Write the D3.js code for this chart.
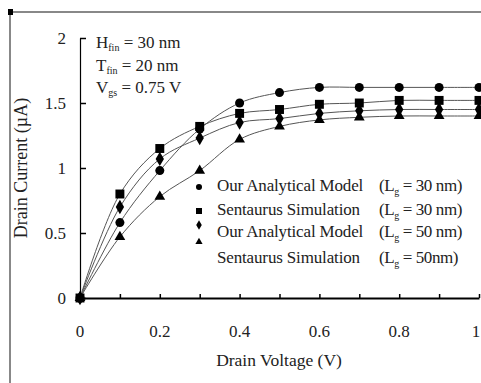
<!DOCTYPE html>
<html>
<head>
<meta charset="utf-8">
<script src="https://cdn.jsdelivr.net/npm/d3@7"></script>
<style>
  html, body { margin: 0; padding: 0; background: #fff; }
  svg { display: block; }
</style>
</head>
<body>
<div id="chart"></div>
<script>
// drain voltage (V) sample points and drain current (uA) per series
const VDS = [0, 0.1, 0.2, 0.3, 0.4, 0.5, 0.6, 0.7, 0.8, 0.9, 1.0];
const MODEL_30 = [0, 0.58, 0.98, 1.30, 1.50, 1.58, 1.62, 1.62, 1.62, 1.62, 1.62];
const SIM_30 = [0, 0.80, 1.15, 1.32, 1.42, 1.45, 1.49, 1.50, 1.52, 1.52, 1.52];
const MODEL_50 = [0, 0.70, 1.07, 1.23, 1.35, 1.38, 1.42, 1.44, 1.45, 1.45, 1.45];
const SIM_50 = [0, 0.47, 0.78, 0.98, 1.22, 1.32, 1.37, 1.39, 1.40, 1.40, 1.40];

const X_TICKS = [0, 0.2, 0.4, 0.6, 0.8, 1];
const Y_TICKS = [0, 0.5, 1, 1.5, 2];

const SERIES = [
  { name: "Our Analytical Model", lg: "30 nm", values: MODEL_30, symbol: d3.symbolCircle, size: 64 },
  { name: "Sentaurus Simulation", lg: "30 nm", values: SIM_30, symbol: d3.symbolSquare, size: 80 },
  { name: "Our Analytical Model", lg: "50 nm", values: MODEL_50, symbol: d3.symbolDiamond, size: 60 },
  { name: "Sentaurus Simulation", lg: "50nm", values: SIM_50, symbol: d3.symbolTriangle, size: 50 }
];

const W = 481, H = 383;
const SERIF = '"Liberation Serif"';
const svg = d3.select("#chart").append("svg").attr("width", W).attr("height", H);

// outer frame (top and left only are visible)
svg.append("path").attr("d", `M10,${H} V12 H${W}`)
  .attr("fill", "none").attr("stroke", "#888").attr("stroke-width", 2);
svg.append("rect").attr("x", 8).attr("y", 9).attr("width", 5).attr("height", 6).attr("fill", "#000");

const x = d3.scaleLinear().domain([0, 1]).range([80, 479]);
const y = d3.scaleLinear().domain([0, 2]).range([298, 38]);

// y axis
const yAxis = svg.append("g").attr("transform", `translate(${x(0)},0)`)
  .call(d3.axisLeft(y).tickValues(Y_TICKS).tickSizeInner(-6).tickSizeOuter(0).tickPadding(14).tickFormat(d3.format("")));
yAxis.select(".domain").attr("stroke", "#000").attr("stroke-width", 1.2);
yAxis.selectAll(".tick line").attr("stroke", "#000").attr("stroke-width", 1.5);
yAxis.selectAll(".tick text").style("font-family", SERIF).attr("font-size", 17).attr("fill", "#222");

// x axis with minor ticks every 0.1
const xAxis = svg.append("g").attr("transform", `translate(0,${y(0)})`)
  .call(d3.axisBottom(x).tickValues(VDS).tickSizeInner(-4).tickSizeOuter(0).tickPadding(0).tickFormat(""));
xAxis.select(".domain").attr("stroke", "#000").attr("stroke-width", 2.2);
xAxis.selectAll(".tick line").attr("stroke", "#000").attr("stroke-width", 1.5);
svg.append("g").selectAll("text").data(X_TICKS).join("text")
  .attr("x", d => Math.min(x(d), 476)).attr("y", 337)
  .attr("text-anchor", "middle").attr("font-size", 17).attr("fill", "#222")
  .style("font-family", SERIF)
  .text(d => d3.format("")(d));

// axis titles
svg.append("text").attr("x", 279).attr("y", 366).attr("text-anchor", "middle")
  .style("font-family", SERIF).attr("font-size", 17.5).attr("fill", "#222").text("Drain Voltage (V)");
svg.append("text").attr("transform", "translate(27,168) rotate(-90)").attr("text-anchor", "middle")
  .style("font-family", SERIF).attr("font-size", 18).attr("fill", "#222").text("Drain Current (\u00b5A)");

// parameter annotation
const notes = [
  { main: "H", sub: "fin", rest: " = 30 nm", y: 48 },
  { main: "T", sub: "fin", rest: " = 20 nm", y: 71 },
  { main: "V", sub: "gs", rest: " = 0.75 V", y: 93 }
];
notes.forEach(n => {
  const t = svg.append("text").attr("x", 96).attr("y", n.y).attr("font-size", 17)
    .style("font-family", SERIF).attr("fill", "#222");
  t.append("tspan").text(n.main);
  t.append("tspan").attr("font-size", 10).attr("dy", 3).text(n.sub);
  t.append("tspan").attr("dy", -3).text(n.rest);
});

// curves
const line = d3.line().curve(d3.curveCatmullRom.alpha(0.5))
  .x((d, i) => x(VDS[i])).y(d => y(d));
svg.append("g").selectAll("path").data(SERIES).join("path")
  .attr("d", s => line(s.values))
  .attr("fill", "none").attr("stroke", "#555").attr("stroke-width", 1);

// markers
SERIES.forEach(s => {
  svg.append("g").selectAll("path").data(s.values).join("path")
    .attr("transform", (d, i) => `translate(${x(VDS[i])},${y(d)})`)
    .attr("d", d3.symbol().type(s.symbol).size(s.size))
    .attr("fill", "#000");
});

// legend
const legendMarkY = [187, 211, 225, 242];
const legendTextY = [191, 215, 237, 263];
const legend = svg.append("g");
SERIES.forEach((s, i) => {
  legend.append("path")
    .attr("transform", `translate(199,${legendMarkY[i]})`)
    .attr("d", d3.symbol().type(s.symbol).size(s.size * 0.45))
    .attr("fill", "#000");
  legend.append("text").attr("x", 217).attr("y", legendTextY[i])
    .style("font-family", SERIF).attr("font-size", 17).attr("fill", "#222")
    .attr("letter-spacing", -0.15).text(s.name);
  const t = legend.append("text").attr("x", 379).attr("y", legendTextY[i])
    .style("font-family", SERIF).attr("font-size", 17).attr("fill", "#222").attr("letter-spacing", -0.4);
  t.append("tspan").text("(L");
  t.append("tspan").attr("font-size", 10).attr("dy", 4).text("g");
  t.append("tspan").attr("dy", -4).text(" = " + s.lg + ")");
});
</script>
</body>
</html>
